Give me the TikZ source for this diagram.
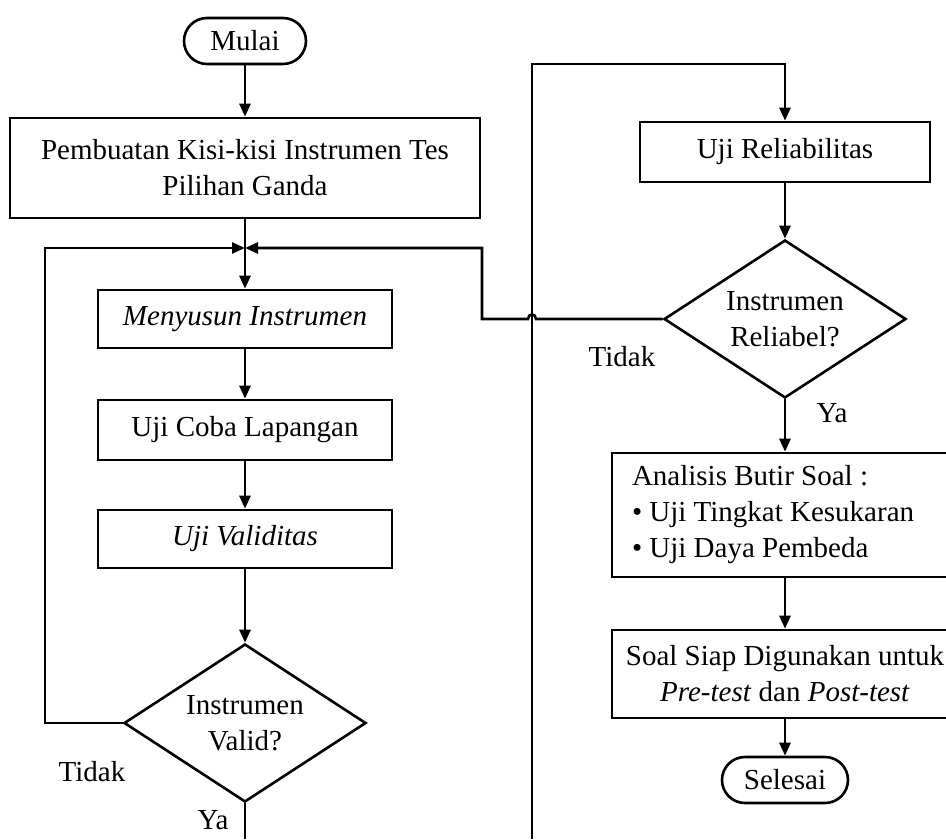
\documentclass[tikz,border=0pt]{standalone}
\usepackage{fontspec}
\setmainfont{Liberation Serif}
\usetikzlibrary{arrows.meta,shapes.geometric}
\begin{document}
\begin{tikzpicture}[x=1pt,y=-1pt, line width=2.6pt,
  >={Triangle[length=13pt,width=11pt]},
  every node/.style={font=\fontsize{29}{36}\selectfont},
  term/.style={draw, rounded corners=23pt, minimum width=122pt, minimum height=46pt, inner sep=0pt},
  proc/.style={draw, minimum width=294pt, minimum height=58pt, inner sep=0pt, align=center},
  dec/.style={draw, diamond, aspect=1.54, minimum width=242pt, minimum height=158pt, inner sep=0pt, align=center},
  lbl/.style={inner sep=0pt}]
\useasboundingbox (0,0) rectangle (946,839);
\clip (0,0) rectangle (946,839);
% left column
\node[term] (mulai) at (245,41) {Mulai};
\node[proc, minimum width=470pt, minimum height=100pt] (kisi) at (245,168) {Pembuatan Kisi-kisi Instrumen Tes\\Pilihan Ganda};
\coordinate (j) at (245,248);
\node[proc] (susun) at (245,319) {\itshape Menyusun Instrumen};
\node[proc, minimum height=60pt] (coba) at (245,430) {Uji Coba Lapangan};
\node[proc] (valid) at (245,539) {\itshape Uji Validitas};
\node[dec] (dv) at (245,723) {Instrumen\\Valid?};
\node[lbl] (tidak1) at (92,772) {Tidak};
\node[lbl] (ya1) at (213,820) {Ya};
\coordinate (vb) at (245,839);
\coordinate (l1) at (45,248);
% right column
\coordinate (rb) at (532,839);
\coordinate (rt) at (532,64);
\node[proc, minimum width=290pt, minimum height=60pt] (rel) at (785,152) {Uji Reliabilitas};
\node[dec] (dr) at (785,319) {Instrumen\\Reliabel?};
\node[lbl] (tidak2) at (622,357) {Tidak};
\node[lbl] (ya2) at (832,413) {Ya};
\node[draw, minimum width=346pt, minimum height=124pt, text width=306pt, inner xsep=20pt, align=flush left] (an) at (785,515) {Analisis Butir Soal :\\\textbullet\ Uji Tingkat Kesukaran\\\textbullet\ Uji Daya Pembeda};
\node[proc, minimum width=346pt, minimum height=88pt] (soal) at (785,674) {Soal Siap Digunakan untuk\\\textit{Pre-test} dan \textit{Post-test}};
\node[term, minimum width=126pt] (sel) at (785,780) {Selesai};
\coordinate (h1) at (536,319);
\coordinate (h2) at (528,319);
\coordinate (r1) at (482,319);
\coordinate (r2) at (482,248);
% connectors
\draw[->] (mulai) -- (kisi);
\draw (kisi) -- (j);
\draw[->] (j) -- (susun);
\draw[->] (susun) -- (coba);
\draw[->] (coba) -- (valid);
\draw[->] (valid) -- (dv);
\draw[->] (dv.west) -| (l1) -- (j);
\draw (dv.south) -- (vb);
\draw[->] (rb) -- (rt) -| (rel.north);
\draw[->] (rel) -- (dr);
\draw[->] (dr.west) -- (h1) .. controls (536,313) and (528,313) .. (h2) -- (r1) -- (r2) -- (j);
\draw[->] (dr.south) -- (an);
\draw[->] (an) -- (soal);
\draw[->] (soal) -- (sel);
\end{tikzpicture}
\end{document}
